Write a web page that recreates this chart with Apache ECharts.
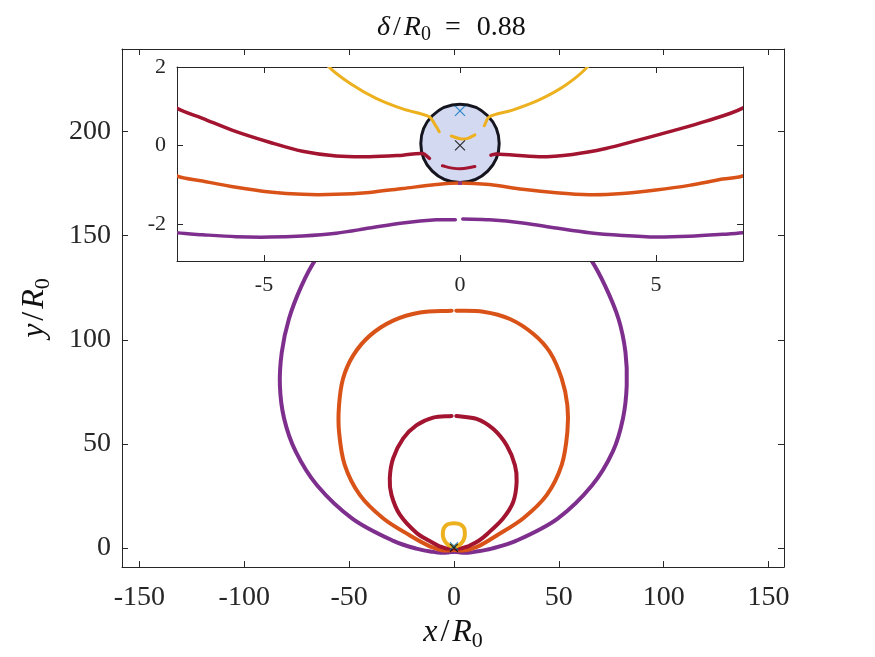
<!DOCTYPE html>
<html><head><meta charset="utf-8">
<script src="https://cdn.jsdelivr.net/npm/echarts@6/dist/echarts.min.js"></script>
<style>html,body{margin:0;padding:0;background:#fff}#c{width:875px;height:657px}</style>
</head><body><div id="c"></div>
<script>
// ---- tick values ----
const mainXTicks = [-150, -100, -50, 0, 50, 100, 150];
const mainYTicks = [0, 50, 100, 150, 200];
const insetXTicks = [-5, 0, 5];
const insetYTicks = [-2, 0, 2];

// ---- trajectories [x/R0, y/R0] ----
const purpleCurve = [
  [-0.12,-1.90],[-0.61,-1.90],[-1.46,-1.98],[-2.31,-2.11],[-3.16,-2.24],[-4.02,-2.31],[-4.86,-2.34],
  [-5.71,-2.33],[-6.57,-2.28],[-7.23,-2.23],[-9.9,-1.9],[-18,-0.3],[-28.9,3.4],[-48.3,14.0],[-65.2,30.0],
  [-75.5,46.4],[-81.0,62.2],[-83.0,78.1],[-82.1,94.0],[-78.7,110.0],[-72.7,125.9],[-65.7,139.0],
  [-55,152],[-40,163],[-20,170],[0,172],[20,170],[40,163],[55,152],
  [65.0,139.0],[72.1,125.9],[78.5,110.0],[81.8,94.0],[82.4,78.1],[80.6,62.2],[75.8,46.4],[65.8,30.0],
  [49.3,14.0],[29.6,3.4],[18,-0.3],[9.9,-1.9],[7.21,-2.23],[6.70,-2.27],[5.85,-2.32],[5.0,-2.34],
  [4.15,-2.30],[3.30,-2.23],[2.45,-2.11],[1.60,-1.98],[0.75,-1.90],[0.07,-1.88]
];
const orangeCurve = [
  [-1.1,114],[-16.2,113.1],[-29,109.2],[-40.1,102],[-48.1,92.4],[-52.9,81.3],[-54.8,68.5],[-54.8,55.8],
  [-52.1,39.9],[-44.9,25.5],[-33.8,14.3],[-21,6.0],[-12,1.0],[-7.23,-0.78],[-6.57,-0.91],[-5.71,-1.07],
  [-4.86,-1.19],[-4.02,-1.25],[-3.16,-1.25],[-2.31,-1.20],[-1.46,-1.10],[-0.61,-1.00],[0,-0.96],
  [0.75,-1.00],[1.60,-1.12],[2.45,-1.21],[3.30,-1.26],[4.15,-1.23],[5.0,-1.14],[5.85,-1.02],[6.70,-0.86],
  [7.21,-0.78],[12,1.0],[20.4,6.0],[33.1,14.3],[44.3,25.5],[51.4,39.9],[54.1,55.8],[54.1,68.5],
  [51.4,81.3],[45.8,94],[37.9,102.8],[26.7,110],[14,113.5],[1.1,114]
];
const redLeft = [
  [-0.78,-0.33],[-0.95,-0.21],[-1.46,-0.25],[-2.31,-0.29],[-3.16,-0.27],[-4.02,-0.15],[-4.86,0.08],
  [-5.71,0.35],[-6.57,0.69],[-7.23,0.95],[-12,3.6],[-17.8,7.2],[-25.8,16],[-29.8,25.5],[-30.6,33.5],
  [-29,43],[-24.2,52.6],[-17.8,59],[-9.9,62.6],[-1.1,63.4]
];
const redRight = [
  [0.79,-0.25],[0.92,-0.22],[2.02,-0.29],[2.87,-0.23],[3.72,-0.08],[4.57,0.14],[5.42,0.37],
  [6.28,0.62],[7.21,0.95],[12,3.6],[15.6,6.5],[23.5,14.3],[28.3,22.2],[29.9,31.8],[29.1,39.7],
  [25.2,49.2],[18.8,57.1],[10.8,62],[1.1,63.4]
];
const yellowCurve = [
  [-0.53,0.35],[-0.65,0.55],[-0.78,0.73],[-1.46,0.93],[-2.14,1.20],[-2.74,1.54],[-3.35,2.01],
  [-4.4,3.3],[-5.1,5.0],[-5.3,7.0],[-4.9,9.3],[-3.6,11.0],[-1.8,11.7],[0,11.9],[1.8,11.7],[3.6,11.0],
  [4.9,9.3],[5.2,7.0],[5.0,5.0],[4.3,3.3],[3.26,2.01],[2.70,1.54],[2.02,1.16],[1.34,0.90],[0.75,0.73],
  [0.62,0.50]
];
const yellowArc = [[-0.22,0.24],[0.0,0.17],[0.2,0.18],[0.38,0.27]];
const redArc = [[-0.45,-0.52],[-0.2,-0.58],[0.1,-0.59],[0.38,-0.54]];
const purpleDot = [[0,-0.96]];
const blackMark = [[0,0.0]];
const blueMark = [[0,0.88]];
const body = [[0, 0.05, 1.0]]; // centre x, centre y, radius

const C = {purple:'#7E2F8E', orange:'#D95319', red:'#A2142F', yellow:'#EDB120', blue:'#0072BD', axis:'#262626'};
const FONT = 'Liberation Serif';

function axis(o) {
  return Object.assign({
    type: 'value', scale: false,
    axisLine: {show: true, onZero: false, lineStyle: {color: C.axis, width: 1}},
    axisTick: {show: true, inside: true, length: 6, customValues: o.ticks, lineStyle: {color: C.axis}},
    axisLabel: o.labels ? {show: true, customValues: o.ticks, fontFamily: FONT, fontSize: o.fs, color: C.axis, margin: o.margin} : {show: false},
    splitLine: {show: false}
  }, o.extra);
}

// smooth path through pixel points (chord-length weighted tangents)
function buildPath(pts) {
  const n = pts.length;
  const dist = (a, b) => Math.hypot(b[0] - a[0], b[1] - a[1]);
  const tangent = (i) => {
    const p = pts[Math.max(i - 1, 0)], q = pts[Math.min(i + 1, n - 1)];
    const d = dist(p, pts[i]) + dist(pts[i], q);
    return d > 0 ? [(q[0] - p[0]) / d, (q[1] - p[1]) / d] : [0, 0];
  };
  let s = 'M' + pts[0][0].toFixed(2) + ' ' + pts[0][1].toFixed(2);
  for (let i = 0; i < n - 1; i++) {
    const p1 = pts[i], p2 = pts[i + 1], L = dist(p1, p2) / 3;
    const t1 = tangent(i), t2 = tangent(i + 1);
    const c1 = [p1[0] + t1[0] * L, p1[1] + t1[1] * L];
    const c2 = [p2[0] - t2[0] * L, p2[1] - t2[1] * L];
    s += ' C' + c1[0].toFixed(2) + ' ' + c1[1].toFixed(2) + ' ' + c2[0].toFixed(2) + ' ' + c2[1].toFixed(2) +
         ' ' + p2[0].toFixed(2) + ' ' + p2[1].toFixed(2);
  }
  return s;
}

const curveSeries = (data, color, xi, yi, w, z) => ({
  type: 'custom', data: data, xAxisIndex: xi, yAxisIndex: yi, z: z, clip: true, animation: false, silent: true,
  renderItem: function (params, api) {
    if (params.dataIndex !== 0) return null;
    const pts = data.map(p => api.coord(p));
    return {type: 'path', shape: {pathData: buildPath(pts)},
      style: {fill: null, stroke: color, lineWidth: w, lineCap: 'round', lineJoin: 'round'}};
  }
});
const markSeries = (data, color, xi, yi, size, z) => ({
  type: 'scatter', data: data, xAxisIndex: xi, yAxisIndex: yi, symbol: 'path://M0,0L10,10M10,0L0,10',
  symbolSize: size, itemStyle: {color: 'transparent', borderColor: color, borderWidth: 1.2}, z: z, animation: false
});

const rich = (fs) => ({
  i: {fontFamily: FONT, fontStyle: 'italic', fontWeight: 'normal', fontSize: fs, color: '#111', lineHeight: fs + 6},
  n: {fontFamily: FONT, fontWeight: 'normal', fontSize: fs, color: '#111', lineHeight: fs + 6},
  sl: {fontFamily: FONT, fontWeight: 'normal', fontSize: fs, color: '#111', lineHeight: fs + 6, padding: [0, 3, 0, 3]},
  e: {fontFamily: FONT, fontWeight: 'normal', fontSize: fs, color: '#111', lineHeight: fs + 6, padding: [0, 16, 0, 14]},
  s: {fontFamily: FONT, fontWeight: 'normal', fontSize: Math.round(fs * 0.7), color: '#111', lineHeight: fs + 6, verticalAlign: 'bottom'}
});

const option = {
  animation: false,
  backgroundColor: '#fff',
  title: {
    text: '{i|δ}{sl|/}{i|R}{s|0}{e|=}{n|0.88}', left: 372, top: 6,
    textStyle: {fontWeight: 'normal', rich: rich(28)}
  },
  grid: [
    {left: 122, top: 49, width: 662, height: 522, show: false},
    {left: 177, top: 67, width: 566, height: 194, show: true, backgroundColor: '#fff', borderWidth: 0, z: 10}
  ],
  xAxis: [
    axis({ticks: mainXTicks, labels: true, fs: 28, margin: 17, extra: {gridIndex: 0, min: -158.3, max: 157.4, position: 'bottom',
      name: '{i|x}{sl|/}{i|R}{s|0}', nameLocation: 'middle', nameGap: 44, nameTextStyle: {rich: rich(32)}}}),
    axis({ticks: mainXTicks, labels: false, extra: {gridIndex: 0, min: -158.3, max: 157.4, position: 'top'}}),
    axis({ticks: insetXTicks, labels: true, fs: 22, margin: 13, extra: {gridIndex: 1, min: -7.22, max: 7.22, position: 'bottom', z: 11}}),
    axis({ticks: insetXTicks, labels: false, extra: {gridIndex: 1, min: -7.22, max: 7.22, position: 'top', z: 11}})
  ],
  yAxis: [
    axis({ticks: mainYTicks, labels: true, fs: 28, margin: 11, extra: {gridIndex: 0, min: -9.2, max: 239.7, position: 'left',
      name: '{i|y}{sl|/}{i|R}{s|0}', nameLocation: 'middle', nameGap: 68, nameRotate: 90, nameTextStyle: {rich: rich(32)}}}),
    axis({ticks: mainYTicks, labels: false, extra: {gridIndex: 0, min: -9.2, max: 239.7, position: 'right'}}),
    axis({ticks: insetYTicks, labels: true, fs: 22, margin: 11, extra: {gridIndex: 1, min: -2.95, max: 2.0, position: 'left', z: 11}}),
    axis({ticks: insetYTicks, labels: false, extra: {gridIndex: 1, min: -2.95, max: 2.0, position: 'right', z: 11}})
  ],
  series: [
    curveSeries(purpleCurve, C.purple, 0, 0, 4, 2),
    curveSeries(orangeCurve, C.orange, 0, 0, 4, 2),
    curveSeries(redLeft, C.red, 0, 0, 4, 2),
    curveSeries(redRight, C.red, 0, 0, 4, 2),
    curveSeries(yellowCurve, C.yellow, 0, 0, 4, 2),
    markSeries(blueMark, C.blue, 0, 0, 8, 3),
    markSeries(blackMark, '#000', 0, 0, 8, 3),
    {
      type: 'custom', xAxisIndex: 2, yAxisIndex: 2, data: body, z: 12, clip: true, animation: false,
      renderItem: function (params, api) {
        const c = api.coord([api.value(0), api.value(1)]);
        const s = api.size([api.value(2), api.value(2)]);
        return {type: 'circle', shape: {cx: c[0], cy: c[1], r: s[0]},
          style: {fill: '#d3d9f0', stroke: '#15151f', lineWidth: 3}};
      }
    },
    curveSeries(purpleCurve, C.purple, 2, 2, 3.5, 13),
    curveSeries(orangeCurve, C.orange, 2, 2, 3.5, 13),
    curveSeries(redLeft, C.red, 2, 2, 3.5, 13),
    curveSeries(redRight, C.red, 2, 2, 3.5, 13),
    curveSeries(yellowCurve, C.yellow, 2, 2, 3, 13),
    curveSeries(yellowArc, C.yellow, 2, 2, 3, 13),
    curveSeries(redArc, C.red, 2, 2, 3, 13),
    {type: 'scatter', data: purpleDot, xAxisIndex: 2, yAxisIndex: 2, symbol: 'rect', symbolSize: 4,
      itemStyle: {color: C.purple}, z: 14, animation: false},
    markSeries(blueMark, C.blue, 2, 2, 10, 14),
    markSeries(blackMark, '#000', 2, 2, 10, 14)
  ]
};
const chart = echarts.init(document.getElementById('c'), null, {renderer: 'canvas'});
chart.setOption(option);
</script></body></html>
